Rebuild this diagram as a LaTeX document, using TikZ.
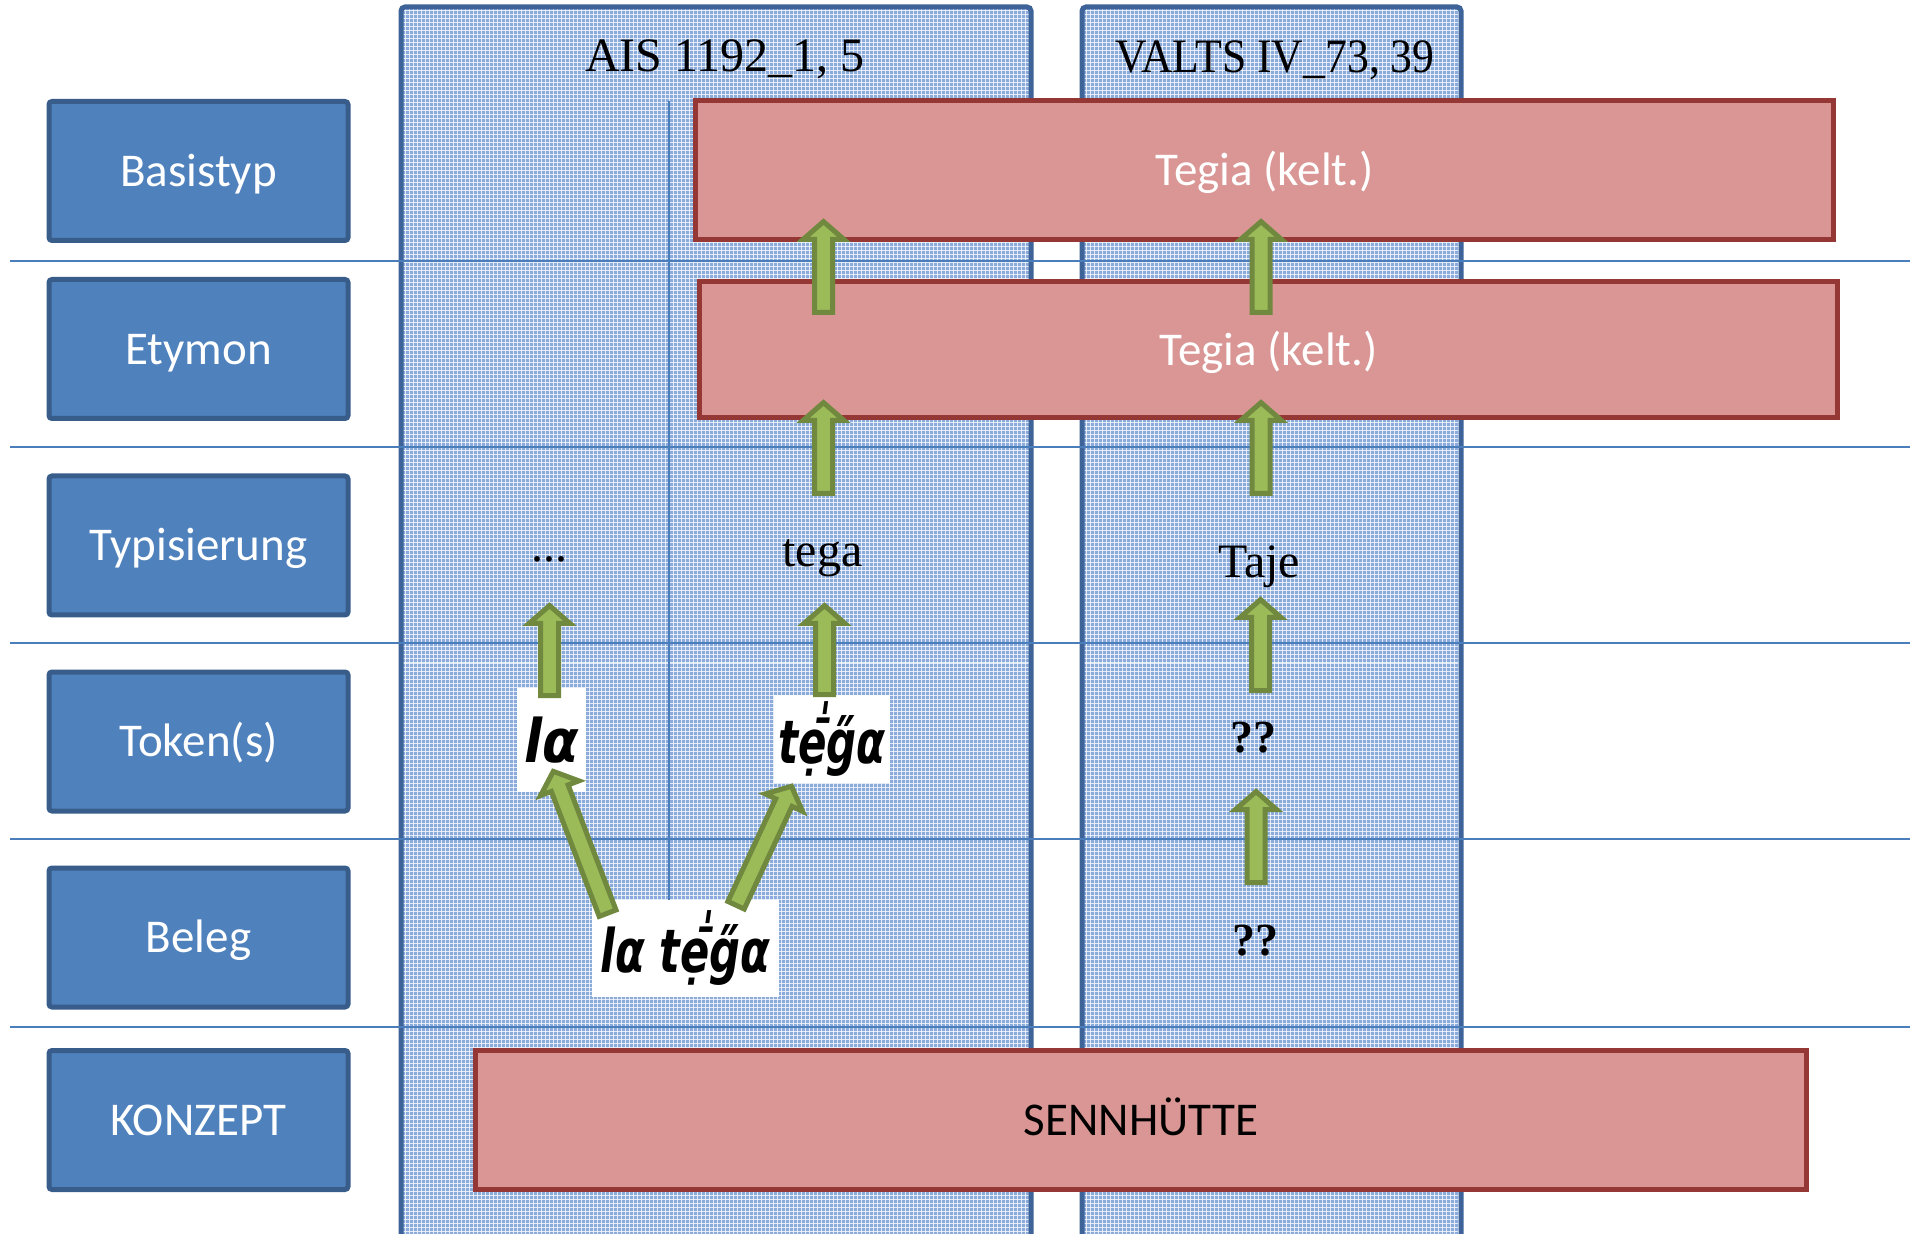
\documentclass[tikz,border=0pt]{standalone}
\usepackage{fontspec}
\setmainfont{Carlito}
\newfontfamily\seriffont{Liberation Serif}
\newfontfamily\handfont{DejaVu Sans}
\usetikzlibrary{calc}
\definecolor{lblue}{HTML}{4F81BD}
\definecolor{lblueb}{HTML}{385D8A}
\definecolor{rfill}{HTML}{D99694}
\definecolor{rdraw}{HTML}{953735}
\definecolor{gfill}{HTML}{9BBB59}
\definecolor{gdraw}{HTML}{71893F}
\definecolor{hline}{HTML}{4A7EBB}
\definecolor{colbase}{HTML}{8AABDB}
\definecolor{colborder}{HTML}{3E6398}
\tikzset{
  labelbox/.style={draw=lblueb, fill=lblue, line width=2.5pt, rounded corners=1.5pt,
    minimum width=149.5pt, minimum height=69.5pt, inner sep=0pt, text=white,
    font=\fontsize{23.5pt}{28pt}\selectfont, text height=19.8pt, text depth=4.7pt},
  redbox/.style={draw=rdraw, fill=rfill, line width=2.5pt, minimum height=69.5pt,
    inner sep=0pt, text=white, font=\fontsize{23.5pt}{28pt}\selectfont,
    text height=19.8pt, text depth=4.7pt},
  sertext/.style={font=\seriffont\fontsize{24pt}{28pt}\selectfont, anchor=base, inner sep=0pt},
  qtext/.style={font=\seriffont\bfseries\fontsize{23pt}{28pt}\selectfont, anchor=base, inner sep=0pt},
  handbox/.style={fill=white, inner sep=0pt, font=\handfont\bfseries\itshape\fontsize{30pt}{36pt}\selectfont},
  garrow/.style={draw=gdraw, fill=gfill, line width=2.5pt, line join=miter},
  rowline/.style={draw=hline, line width=1pt},
  gridw/.style={draw=white, line width=0.5pt, opacity=0.75},
  colframe/.style={draw=colborder, line width=2.5pt, rounded corners=2pt},
}
\newcommand\blockarrow[2]{%
  \draw[garrow] let \p1=(#1), \p2=(#2), \n1={atan2(\y2-\y1,\x2-\x1)}, \n2={veclen(\x2-\x1,\y2-\y1)} in
    ($(\p1)+(\n1:1.25pt)+(\n1+90:4.5pt)$)
    -- ($(\p1)+(\n1:\n2*1pt-10.75pt)+(\n1+90:4.5pt)$)
    -- ($(\p1)+(\n1:\n2*1pt-10.75pt)+(\n1+90:10.25pt)$)
    -- ($(\p2)+(\n1:-1.8pt)$)
    -- ($(\p1)+(\n1:\n2*1pt-10.75pt)+(\n1-90:10.25pt)$)
    -- ($(\p1)+(\n1:\n2*1pt-10.75pt)+(\n1-90:4.5pt)$)
    -- ($(\p1)+(\n1:1.25pt)+(\n1-90:4.5pt)$) -- cycle;}
\newcommand\gridcol[4]{%
  \begin{scope}
    \clip (#1,#2) rectangle (#3,#4);
    \fill[colbase] (#1,#2) rectangle (#3,#4);
    \pgfmathtruncatemacro\gxa{#1+4}
    \foreach \gx in {#1,\gxa,...,#3} \draw[gridw] (\gx,#2) -- (\gx,#4);
    \pgfmathtruncatemacro\gya{#2+4}
    \foreach \gy in {#2,\gya,...,#4} \draw[gridw] (#1,\gy) -- (#3,\gy);
  \end{scope}}
\begin{document}
\begin{tikzpicture}[x=0.5pt,y=-0.5pt]
\useasboundingbox (0,0) rectangle (1910,1234);
\fill[white] (0,0) rectangle (1910,1234);

% columns
\gridcol{401}{7}{1031}{1250}
\gridcol{1082}{7}{1461}{1250}
\draw[colframe] (401,1260) -- (401,7) -- (1031,7) -- (1031,1260);
\draw[colframe] (1082,1260) -- (1082,7) -- (1461,7) -- (1461,1260);

% row separators
\foreach \ry in {261,447,643,839,1027} \draw[rowline] (10,\ry) -- (1910,\ry);
\draw[rowline] (669,101) -- (669,900);

% headers
\node[sertext] (hAIS) at (725,72) {AIS 1192\_1, 5};
\node[sertext] (hVALTS) at (1275,73) {\scalebox{0.91}[1]{VALTS IV\_73, 39}};

% left labels
\node[labelbox] (lBasis) at (198.5,171) {Basistyp};
\node[labelbox] (lEtym) at (198.5,349) {Etymon};
\node[labelbox] (lTyp) at (198.5,545.5) {Typisierung};
\node[labelbox] (lTok) at (198.5,741.5) {Token(s)};
\node[labelbox] (lBeleg) at (198.5,937.5) {Beleg};
\node[labelbox] (lKonz) at (198.5,1120) {KONZEPT};

% red boxes
\node[redbox, minimum width=569pt] (rBasis) at (1264.5,170) {Tegia (kelt.)};
\node[redbox, minimum width=569pt, minimum height=68pt] (rEtym) at (1268.5,350) {Tegia (kelt.)};
\node[redbox, minimum width=665.5pt, text=black] (rKonz) at (1141,1120) {SENNHÜTTE};

% column texts
\node[sertext] (tDots) at (549,562) {...};
\node[sertext] (tTega) at (822.5,567) {tega};
\node[sertext] (tTaje) at (1259,578) {Taje};
\node[qtext] (qTok) at (1253,752) {??};
\node[qtext] (qBeleg) at (1255,955) {??};

% handwritten tokens
\node[handbox, minimum width=34.5pt, minimum height=52pt] (tok1) at (551.5,740) {\scalebox{0.88}[1]{l^^^^03b1}};
\node[handbox, minimum width=58pt, minimum height=44pt] (tok2) at (832,739) {\scalebox{0.7}[1]{te^^^^0323^^^^0304^^^^030dg^^^^030b^^^^03b1}};
\node[handbox, minimum width=93.5pt, minimum height=48.5pt] (beleg) at (685.5,948.5) {\scalebox{0.72}[1]{l^^^^03b1 te^^^^0323^^^^0304^^^^030dg^^^^030b^^^^03b1}};

% arrow end points
\coordinate (a1s) at (823.5,315);  \coordinate (a1t) at (823.5,218);
\coordinate (a2s) at (1261,315);   \coordinate (a2t) at (1261,218);
\coordinate (a3s) at (823.5,496);  \coordinate (a3t) at (823.5,399);
\coordinate (a4s) at (1261,496);   \coordinate (a4t) at (1261,399);
\coordinate (a5s) at (549.5,698);  \coordinate (a5t) at (549.5,602);
\coordinate (a6s) at (824.5,697);  \coordinate (a6t) at (824.5,602);
\coordinate (a7s) at (1260.5,693); \coordinate (a7t) at (1260.5,596);
\coordinate (a8s) at (1256,885);   \coordinate (a8t) at (1256,788);
\coordinate (a9s) at (608.5,915.5); \coordinate (a9t) at (552,768);
\coordinate (a10s) at (735,907.5); \coordinate (a10t) at (793,783);

\blockarrow{a1s}{a1t}
\blockarrow{a2s}{a2t}
\blockarrow{a3s}{a3t}
\blockarrow{a4s}{a4t}
\blockarrow{a5s}{a5t}
\blockarrow{a6s}{a6t}
\blockarrow{a7s}{a7t}
\blockarrow{a8s}{a8t}
\blockarrow{a9s}{a9t}
\blockarrow{a10s}{a10t}
\end{tikzpicture}
\end{document}
